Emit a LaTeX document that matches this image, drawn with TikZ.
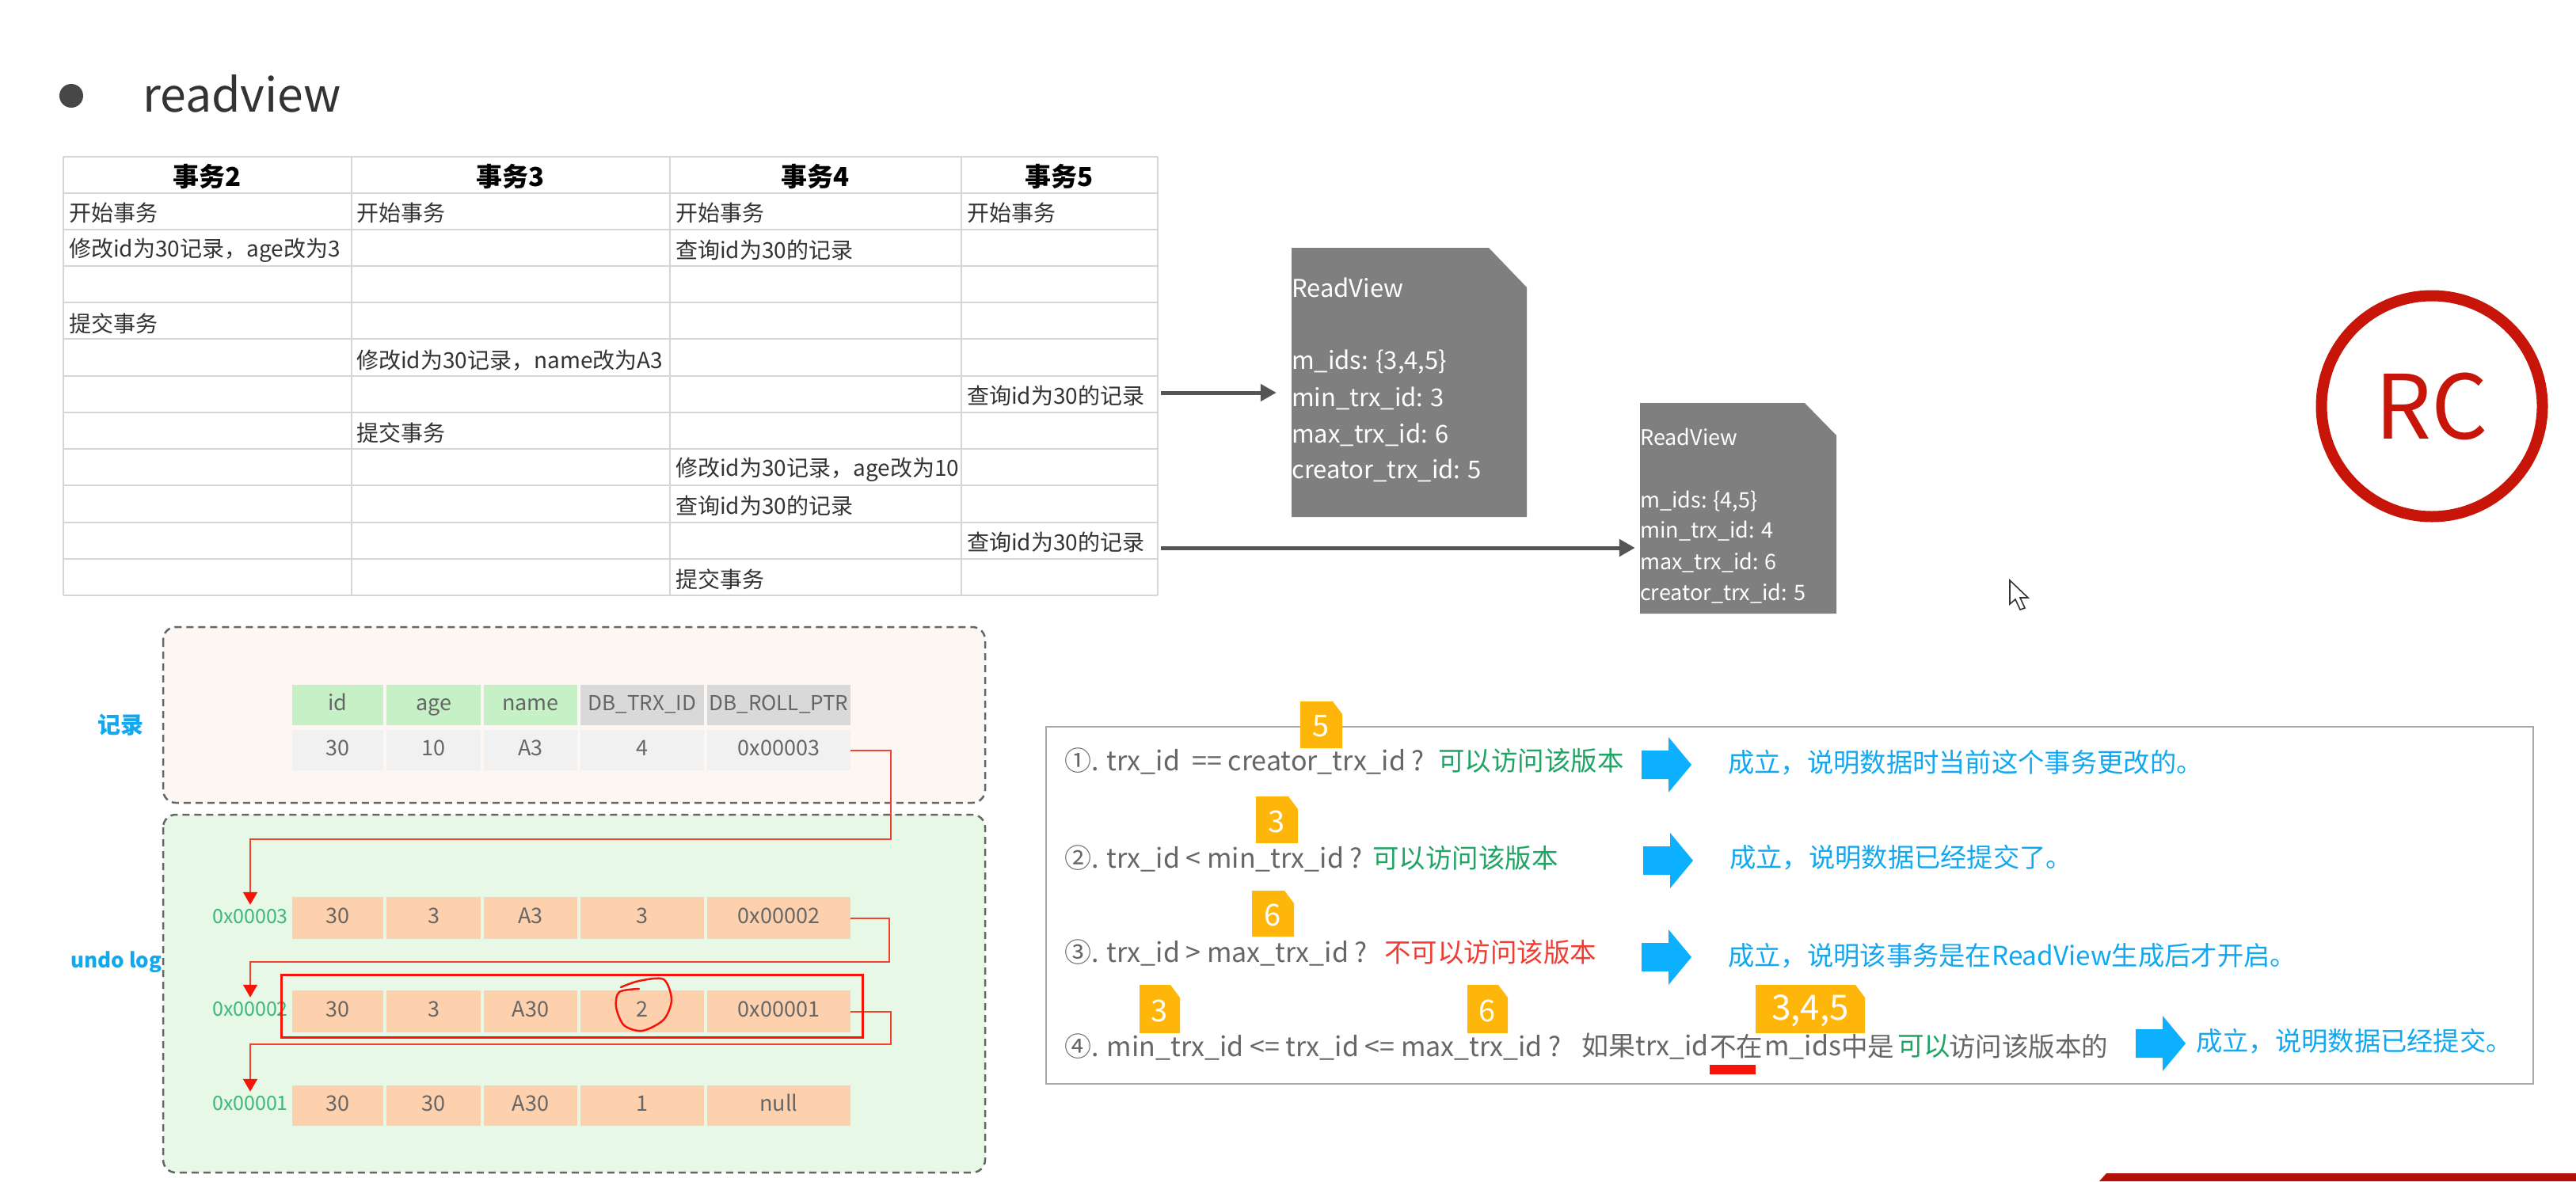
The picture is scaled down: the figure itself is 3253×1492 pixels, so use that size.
\documentclass[tikz,border=0pt]{standalone}
\usepackage{fontspec}
\setmainfont{Noto Sans CJK SC}
\usetikzlibrary{arrows.meta,calc}
\definecolor{gridc}{HTML}{D6D6D6}
\definecolor{ink}{HTML}{333333}
\definecolor{greyt}{HTML}{666666}
\definecolor{rvgrey}{HTML}{7F7F7F}
\definecolor{arrowgrey}{HTML}{555555}
\definecolor{pinkbg}{HTML}{FDF7F4}
\definecolor{greenbg}{HTML}{E8F8E6}
\definecolor{dashc}{HTML}{666666}
\definecolor{hgreen}{HTML}{C6F0C6}
\definecolor{hgrey}{HTML}{D9D9D9}
\definecolor{dgrey}{HTML}{F1F1F1}
\definecolor{orangec}{HTML}{FDD1AE}
\definecolor{addrg}{HTML}{3CB878}
\definecolor{blue1}{HTML}{12A8F0}
\definecolor{blue2}{HTML}{0DB0FF}
\definecolor{okgreen}{HTML}{1FA463}
\definecolor{nored}{HTML}{F03C32}
\definecolor{tagc}{HTML}{FFB60A}
\definecolor{rcred}{HTML}{C8150A}
\definecolor{barred}{HTML}{B01208}
\definecolor{lred}{HTML}{F0442E}
\definecolor{pure}{HTML}{F5140A}
\definecolor{boxline}{HTML}{A8A8A8}
\newcommand\fs[1]{\fontsize{#1}{#1}\selectfont}
\tikzset{
  txt/.style={inner sep=0pt,anchor=west},
  tcell/.style={txt,text=ink,font=\fs{28}},
  thead/.style={inner sep=0pt,text=black,font=\bfseries\fs{33}},
  rvline/.style={txt,text=white,font=\fs{31}},
  rvsmall/.style={txt,text=white,font=\fs{27}},
  cellb/.style={inner sep=0pt,text=greyt,font=\fs{27},text height=20pt,text depth=6pt},
  addr/.style={inner sep=0pt,text=addrg,font=\fs{25},minimum height=30pt},
  side/.style={inner sep=0pt,text=blue1,font=\bfseries\fs{26}},
  rule/.style={txt,text=greyt,font=\fs{34}},
  good/.style={txt,text=okgreen,font=\fs{33.5}},
  bad/.style={txt,text=nored,font=\fs{33.5}},
  concl/.style={txt,text=blue1,font=\fs{33.3}},
  darrow/.style={draw=arrowgrey,line width=5pt,-{Triangle[length=20pt,width=21pt]}},
  rarrow/.style={draw=lred,line width=2pt,-{Triangle[length=16pt,width=18pt,color=pure]}},
  region/.style={draw=dashc,line width=2.5pt,dash pattern=on 9pt off 6pt,rounded corners=16pt},
}
% name x1 y1 x2 y2 fill text
\newcommand\cellbox[7]{\node[cellb,fill=#6,minimum width={(#4-#2)*1pt},minimum height={(#5-#3)*1pt}] (#1) at ({(#2+#4)/2},{(#3+#5)/2}) {#7};}
\newcommand\cellrow[9]{%
  \cellbox{#1a}{369}{#2}{484}{#3}{#4}{#5}%
  \cellbox{#1b}{488}{#2}{607}{#3}{#4}{#6}%
  \cellbox{#1c}{611}{#2}{729}{#3}{#4}{#7}%
  \cellbox{#1d}{733}{#2}{889}{#3}{#4}{#8}%
  \cellbox{#1e}{893}{#2}{1074}{#3}{#4}{#9}}
% name x1 y1 x2 y2 size text
\newcommand\tagbox[7]{\fill[tagc] (#2,#3) -- ({#4-12},#3) -- (#4,{#3+16}) -- (#4,#5) -- (#2,#5) -- cycle;
  \node[inner sep=0pt,text=white,font=\fs{#6}] (#1) at ({(#2+#4)/2},{(#3+#5)/2+2}) {#7};}
\newcommand\bluearrow[2]{\fill[blue2] (#1,{#2-18}) -- ({#1+34},{#2-18}) -- ({#1+34},{#2-35}) -- ({#1+63},#2) -- ({#1+34},{#2+35}) -- ({#1+34},{#2+18}) -- (#1,{#2+18}) -- cycle;}
\begin{document}
\begin{tikzpicture}[x=1pt,y=-1pt]
\useasboundingbox (0,0) rectangle (3253,1492);
\fill[white] (0,0) rectangle (3253,1492);
% title
\fill[ink!90] (90,121) circle (15);
\node[txt,text=ink,font=\fs{59}] (title) at (180,118) {readview};
% table grid
\foreach \yy in {198,244,290,336,382,428,475,521,567,613,660,706,752}
  \draw[gridc,line width=2.5pt] (80,\yy) -- (1462,\yy);
\foreach \xx in {80,444,846,1214,1462}
  \draw[gridc,line width=1.2pt] (\xx,198) -- (\xx,752);
\node[thead] (h2) at (262,223) {事务2};
\node[thead] (h3) at (645,223) {事务3};
\node[thead] (h4) at (1030,223) {事务4};
\node[thead] (h5) at (1338,223) {事务5};
\node[tcell] (t21) at (87,269) {开始事务};
\node[tcell] (t31) at (450,269) {开始事务};
\node[tcell] (t41) at (853,269) {开始事务};
\node[tcell] (t51) at (1221,269) {开始事务};
\node[tcell] (t22) at (87,316) {修改id为30记录，age改为3};
\node[tcell] (t42) at (853,316) {查询id为30的记录};
\node[tcell] (t24) at (87,409) {提交事务};
\node[tcell] (t35) at (450,455) {修改id为30记录，name改为A3};
\node[tcell] (t56) at (1221,500) {查询id为30的记录};
\node[tcell] (t37) at (450,547) {提交事务};
\node[tcell] (t48) at (853,593) {修改id为30记录，age改为10};
\node[tcell] (t49) at (853,639) {查询id为30的记录};
\node[tcell] (t510) at (1221,685) {查询id为30的记录};
\node[tcell] (t411) at (853,732) {提交事务};
% ReadView 1
\node[inner sep=0pt,minimum width=297pt,minimum height=340pt] (rv1) at (1779.5,483) {};
\fill[rvgrey] (1631,313) -- (1880,313) -- (1928,363) -- (1928,653) -- (1631,653) -- cycle;
\node[rvline] (r11) at (1631,363) {ReadView};
\node[rvline] (r12) at (1631,457) {m\_ids: \{3,4,5\}};
\node[rvline] (r13) at (1631,503) {min\_trx\_id: 3};
\node[rvline] (r14) at (1631,549) {max\_trx\_id: 6};
\node[rvline] (r15) at (1631,594) {creator\_trx\_id: 5};
% ReadView 2
\node[inner sep=0pt,minimum width=248pt,minimum height=266pt] (rv2) at (2195,642) {};
\fill[rvgrey] (2071,509) -- (2279,509) -- (2319,550) -- (2319,775) -- (2071,775) -- cycle;
\node[rvsmall] (r21) at (2071,552) {ReadView};
\node[rvsmall] (r22) at (2071,633) {m\_ids: \{4,5\}};
\node[rvsmall] (r23) at (2071,671) {min\_trx\_id: 4};
\node[rvsmall] (r24) at (2071,711) {max\_trx\_id: 6};
\node[rvsmall] (r25) at (2071,750) {creator\_trx\_id: 5};
% query arrows
\coordinate (q1) at (1466,496);
\coordinate (q2) at (1466,692);
\draw[darrow,shorten >=19pt] (q1) -- (q1 -| rv1.west);
\draw[darrow,shorten >=6pt] (q2) -- (q2 -| rv2.west);
% RC stamp
\node[circle,draw=rcred,line width=14pt,minimum size=279pt,inner sep=0pt,text=rcred,font=\fs{112}] (rc) at (3071,513) {RC};
% cursor
\draw[fill=white,draw=ink,line width=1.6pt] (2538,733) -- (2538,763) -- (2545,757) -- (2551,770) -- (2557,768) -- (2551,755) -- (2561,755) -- cycle;
% record / undo regions
\draw[region,fill=pinkbg] (206,792) rectangle (1244,1014);
\draw[region,fill=greenbg] (206,1029) rectangle (1244,1481);
\node[side,font=\bfseries\fs{29}] (lrec) at (152,916) {记录};
\node[side] (lundo) at (147,1215) {undo log};
\cellrow{hd}{865}{916}{hgreen}{id}{age}{name}{}{}
\cellbox{hdd}{733}{865}{889}{916}{hgrey}{\fs{26}DB\_TRX\_ID}
\cellbox{hde}{893}{865}{1074}{916}{hgrey}{\fs{26}DB\_ROLL\_PTR}
\cellrow{rec}{922}{973}{dgrey}{30}{10}{A3}{4}{0x00003}
\cellrow{ua}{1133}{1186}{orangec}{30}{3}{A3}{3}{0x00002}
\cellrow{ub}{1251}{1304}{orangec}{30}{3}{A30}{2}{0x00001}
\cellrow{uc}{1371}{1422}{orangec}{30}{30}{A30}{1}{null}
\node[addr] (a3) at (316,1158) {0x00003};
\node[addr] (a2) at (316,1275) {0x00002};
\node[addr] (a1) at (316,1394) {0x00001};
\coordinate (k1) at (1125,1060);
\coordinate (k2) at (1123,1215);
\coordinate (k3) at (1125,1319);
\draw[rarrow] (rece.east) -| (k1) -| (a3.north);
\draw[rarrow] (uae.east) -| (k2) -| (a2.north);
\draw[rarrow] (ube.east) -| (k3) -| (a1.north);
\draw[pure,line width=3pt] (355,1231) rectangle (1089,1310);
\draw[pure,line width=2.5pt,line cap=round] plot[smooth] coordinates {(784,1247) (807,1239) (838,1237) (848,1263) (838,1288) (811,1302) (788,1295) (778,1272) (782,1253) (807,1249)};
% rules box
\draw[boxline,line width=2.5pt] (1321,918) rectangle (3199,1369);
\tagbox{tg1}{1642}{886}{1695}{945}{38}{5}
\tagbox{tg2}{1586}{1006}{1639}{1065}{38}{3}
\tagbox{tg3}{1581}{1125}{1634}{1183}{38}{6}
\tagbox{tg4}{1439}{1244}{1490}{1305}{38}{3}
\tagbox{tg5}{1853}{1244}{1904}{1305}{38}{6}
\tagbox{tg6}{2217}{1244}{2355}{1305}{44}{3,4,5}
\fill[pure] (2159,1345) rectangle (2217,1357);
\node[rule] (l1) at (1344,961) {①. trx\_id \ == creator\_trx\_id ?};
\node[good] (g1) at (1816,961) {可以访问该版本};
\node[rule] (l2) at (1344,1084) {②. trx\_id < min\_trx\_id ?};
\node[good] (g2) at (1733,1084) {可以访问该版本};
\node[rule] (l3) at (1344,1203) {③. trx\_id > max\_trx\_id ?};
\node[bad] (g3) at (1748,1203) {不可以访问该版本};
\node[rule] (l4) at (1344,1322) {④. min\_trx\_id <= trx\_id <= max\_trx\_id ?};
\node[rule] (l4b) at (1997,1322) {如果trx\_id};
\node[rule,font=\fs{33.5}] (l4c) at (2159,1322) {不在};
\node[rule] (l4d) at (2228,1322) {m\_ids};
\node[rule,font=\fs{33.5}] (l4e) at (2325,1322) {中是};
\node[good] (l4f) at (2396,1322) {可以};
\node[rule,font=\fs{33.5}] (l4g) at (2461,1322) {访问该版本的};
\bluearrow{2073}{966}
\bluearrow{2075}{1087}
\bluearrow{2073}{1209}
\bluearrow{2697}{1318}
\node[concl] (c1) at (2182,963) {成立，说明数据时当前这个事务更改的。};
\node[concl] (c2) at (2184,1083) {成立，说明数据已经提交了。};
\node[concl] (c3) at (2182,1207) {成立，说明该事务是在ReadView生成后才开启。};
\node[concl] (c4) at (2773,1315) {成立，说明数据已经提交。};
% corner bar
\fill[barred] (2651,1492) -- (2660,1482) -- (3253,1482) -- (3253,1492) -- cycle;
\end{tikzpicture}
\end{document}
